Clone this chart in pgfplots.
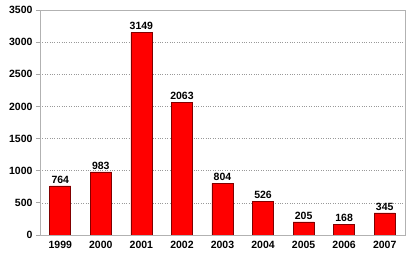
\documentclass[border=0pt]{standalone}
\usepackage{pgfplots}
\pgfplotsset{compat=1.18}
\usepackage{fontspec}
\setmainfont{Liberation Sans}
\begin{document}
\begin{tikzpicture}[x=1pt,y=1pt]
\path[use as bounding box] (-40,-27) rectangle (380,235);
\begin{axis}[
  at={(0,0)}, anchor=south west,
  scale only axis, width=365pt, height=225pt,
  xmin=-0.5, xmax=8.5, ymin=0, ymax=3500,
  xtick=data,
  xticklabels={1999,2000,2001,2002,2003,2004,2005,2006,2007},
  extra x ticks={-0.5,0.5,1.5,2.5,3.5,4.5,5.5,6.5,7.5,8.5},
  extra x tick labels={},
  extra x tick style={major tick length=4pt, tick style={gray!70, line width=0.8pt}, tick pos=left, tick align=outside},
  major x tick style={draw=none},
  ytick={0,500,...,3500},
  ymajorgrids,
  grid style={gray!80, dotted, line width=0.7pt},
  axis line style={gray!60, line width=0.9pt},
  ytick style={gray!70, line width=0.8pt},
  tick align=outside, tick pos=left, major tick length=4pt,
  /pgf/number format/assume math mode=true,
  /pgf/number format/set thousands separator={},
  tick label style={font=\fontsize{10.5}{12}\selectfont\bfseries, black},
  xticklabel style={yshift=1pt},
  nodes near coords,
  every node near coord/.append style={font=\fontsize{10.5}{12}\selectfont\bfseries, black, yshift=-1pt},
  ybar, bar width=21pt,
]
\addplot[fill=red, draw=red!50!black, line width=0.6pt] coordinates {
(0,764) (1,983) (2,3149) (3,2063) (4,804) (5,526) (6,205) (7,168) (8,345)};
\end{axis}
\end{tikzpicture}
\end{document}
